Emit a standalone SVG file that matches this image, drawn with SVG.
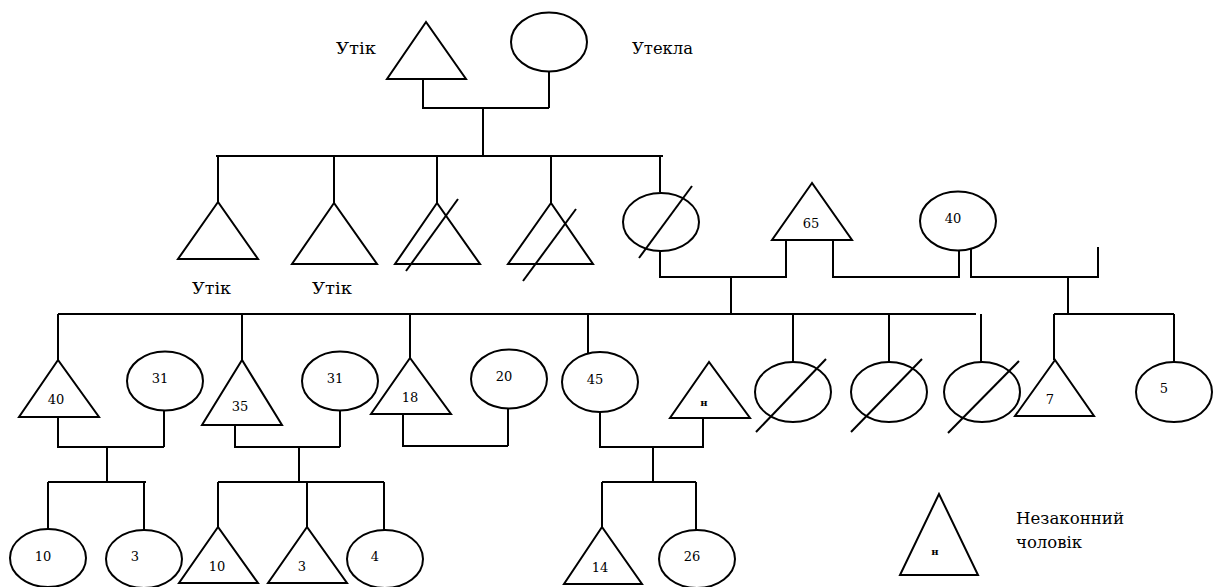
<svg xmlns="http://www.w3.org/2000/svg" width="1218" height="587" viewBox="0 0 1218 587" font-family="'DejaVu Serif', serif">
<style>
.s{fill:none;stroke:#000;stroke-width:2}
.n{fill:#fff;stroke:#000;stroke-width:2}
text{fill:#000;font-family:'DejaVu Serif',serif}
.lbl{font-size:16px}
.num{font-size:13px;text-anchor:middle}
.h{font-size:10px;font-weight:bold;text-anchor:middle}
.leg{font-size:17px}
</style>
<rect width="1218" height="587" fill="#fff"/>
<g id="connectors" class="s">
<path d="M423 79V108H549M549 71V108M483 108V156M216 156H663M218 156V202M334 156V203M437 156V203M551 156V203M660 156V192"/>
<path d="M660 251V277H786V240M833 240V277H959V251M971 249V277H1098V247M731 277V314M58 314H976M58 314V360M242 314V360M410 314V358M588 314V353M793 314V362M889 314V362M981 314V362M1068 277V314M1054 314H1174M1054 314V360M1174 314V362"/>
<path d="M58 417V447H164M164 411V447M107 447V482M48 482H146M48 482V529M144 482V530"/>
<path d="M235 425V447H340M340 411V447M299 447V482M218 482H384M218 482V527M307 482V527M384 482V530"/>
<path d="M403 414V446H508M508 409V446"/>
<path d="M600 412V447H703V418M653 447V482M602 482H696M602 482V527M696 482V530"/>
</g>
<g id="p-utik-top"><polygon class="n" points="426,22 387,79 466,79"/><text class="lbl" x="336" y="54" textLength="40" lengthAdjust="spacingAndGlyphs">Утік</text></g>
<g id="p-utekla"><ellipse class="n" cx="549" cy="42" rx="38" ry="29.5"/><text class="lbl" x="632" y="54" textLength="61" lengthAdjust="spacingAndGlyphs">Утекла</text></g>
<g id="p-c1"><polygon class="n" points="218,202 178,259 258,259"/><text class="lbl" x="192" y="294" textLength="39" lengthAdjust="spacingAndGlyphs">Утік</text></g>
<g id="p-c2"><polygon class="n" points="334,203 292,264 377,264"/><text class="lbl" x="312" y="294" textLength="40" lengthAdjust="spacingAndGlyphs">Утік</text></g>
<g id="p-c3"><polygon class="n" points="437,203 395,264 480,264"/><line class="s" x1="458" y1="199" x2="406" y2="271"/></g>
<g id="p-c4"><polygon class="n" points="551,203 508,264 593,264"/><line class="s" x1="576" y1="209" x2="523" y2="281"/></g>
<g id="p-c5"><ellipse class="n" cx="661" cy="222" rx="38" ry="29"/><line class="s" x1="692" y1="186" x2="639" y2="258"/></g>
<g id="p-65"><polygon class="n" points="812,183 772,240 852,240"/><text class="num" x="811" y="228">65</text></g>
<g id="p-40w"><ellipse class="n" cx="958" cy="221" rx="38" ry="29.5"/><text class="num" x="953" y="223">40</text></g>
<g id="p-40"><polygon class="n" points="58,360 19,417 99,417"/><text class="num" x="56" y="404">40</text></g>
<g id="p-31a"><ellipse class="n" cx="165" cy="381" rx="38" ry="29.5"/><text class="num" x="160" y="383">31</text></g>
<g id="p-35"><polygon class="n" points="242,360 202,425 282,425"/><text class="num" x="240" y="411">35</text></g>
<g id="p-31b"><ellipse class="n" cx="340" cy="381" rx="38" ry="29.5"/><text class="num" x="335" y="383">31</text></g>
<g id="p-18"><polygon class="n" points="410,358 371,414 451,414"/><text class="num" x="410" y="402">18</text></g>
<g id="p-20"><ellipse class="n" cx="509" cy="379" rx="38" ry="29.5"/><text class="num" x="504" y="381">20</text></g>
<g id="p-45"><ellipse class="n" cx="600" cy="382" rx="38" ry="30"/><text class="num" x="595" y="384">45</text></g>
<g id="p-h"><polygon class="n" points="709,362 670,418 750,418"/><text class="h" x="704" y="406">н</text></g>
<g id="p-d1"><ellipse class="n" cx="793" cy="392" rx="38" ry="30"/><line class="s" x1="826" y1="359" x2="756" y2="432"/></g>
<g id="p-d2"><ellipse class="n" cx="889" cy="392" rx="38" ry="30"/><line class="s" x1="922" y1="359" x2="851" y2="432"/></g>
<g id="p-d3"><ellipse class="n" cx="982" cy="392" rx="38" ry="30"/><line class="s" x1="1019" y1="361" x2="948" y2="433"/></g>
<g id="p-7"><polygon class="n" points="1055,360 1015,416 1094,416"/><text class="num" x="1050" y="404">7</text></g>
<g id="p-5"><ellipse class="n" cx="1174" cy="392" rx="38" ry="30"/><text class="num" x="1164" y="393">5</text></g>
<g id="p-10a"><ellipse class="n" cx="48" cy="558" rx="38" ry="29"/><text class="num" x="43" y="561">10</text></g>
<g id="p-3a"><ellipse class="n" cx="144" cy="559" rx="38" ry="29"/><text class="num" x="135" y="561">3</text></g>
<g id="p-10b"><polygon class="n" points="218,527 179,583 258,583"/><text class="num" x="217" y="571">10</text></g>
<g id="p-3b"><polygon class="n" points="307,527 268,583 347,583"/><text class="num" x="302" y="571">3</text></g>
<g id="p-4"><ellipse class="n" cx="385" cy="559" rx="38" ry="29"/><text class="num" x="375" y="561">4</text></g>
<g id="p-14"><polygon class="n" points="602,527 564,584 642,584"/><text class="num" x="600" y="572">14</text></g>
<g id="p-26"><ellipse class="n" cx="697" cy="559" rx="38" ry="29"/><text class="num" x="692" y="561">26</text></g>
<g id="legend"><polygon class="n" points="939,494 900,575 978,575"/><text class="h" x="935" y="555">н</text><text class="leg" x="1016" y="524" textLength="108" lengthAdjust="spacingAndGlyphs">Незаконний</text><text class="leg" x="1016" y="548" textLength="66" lengthAdjust="spacingAndGlyphs">чоловік</text></g>
</svg>
